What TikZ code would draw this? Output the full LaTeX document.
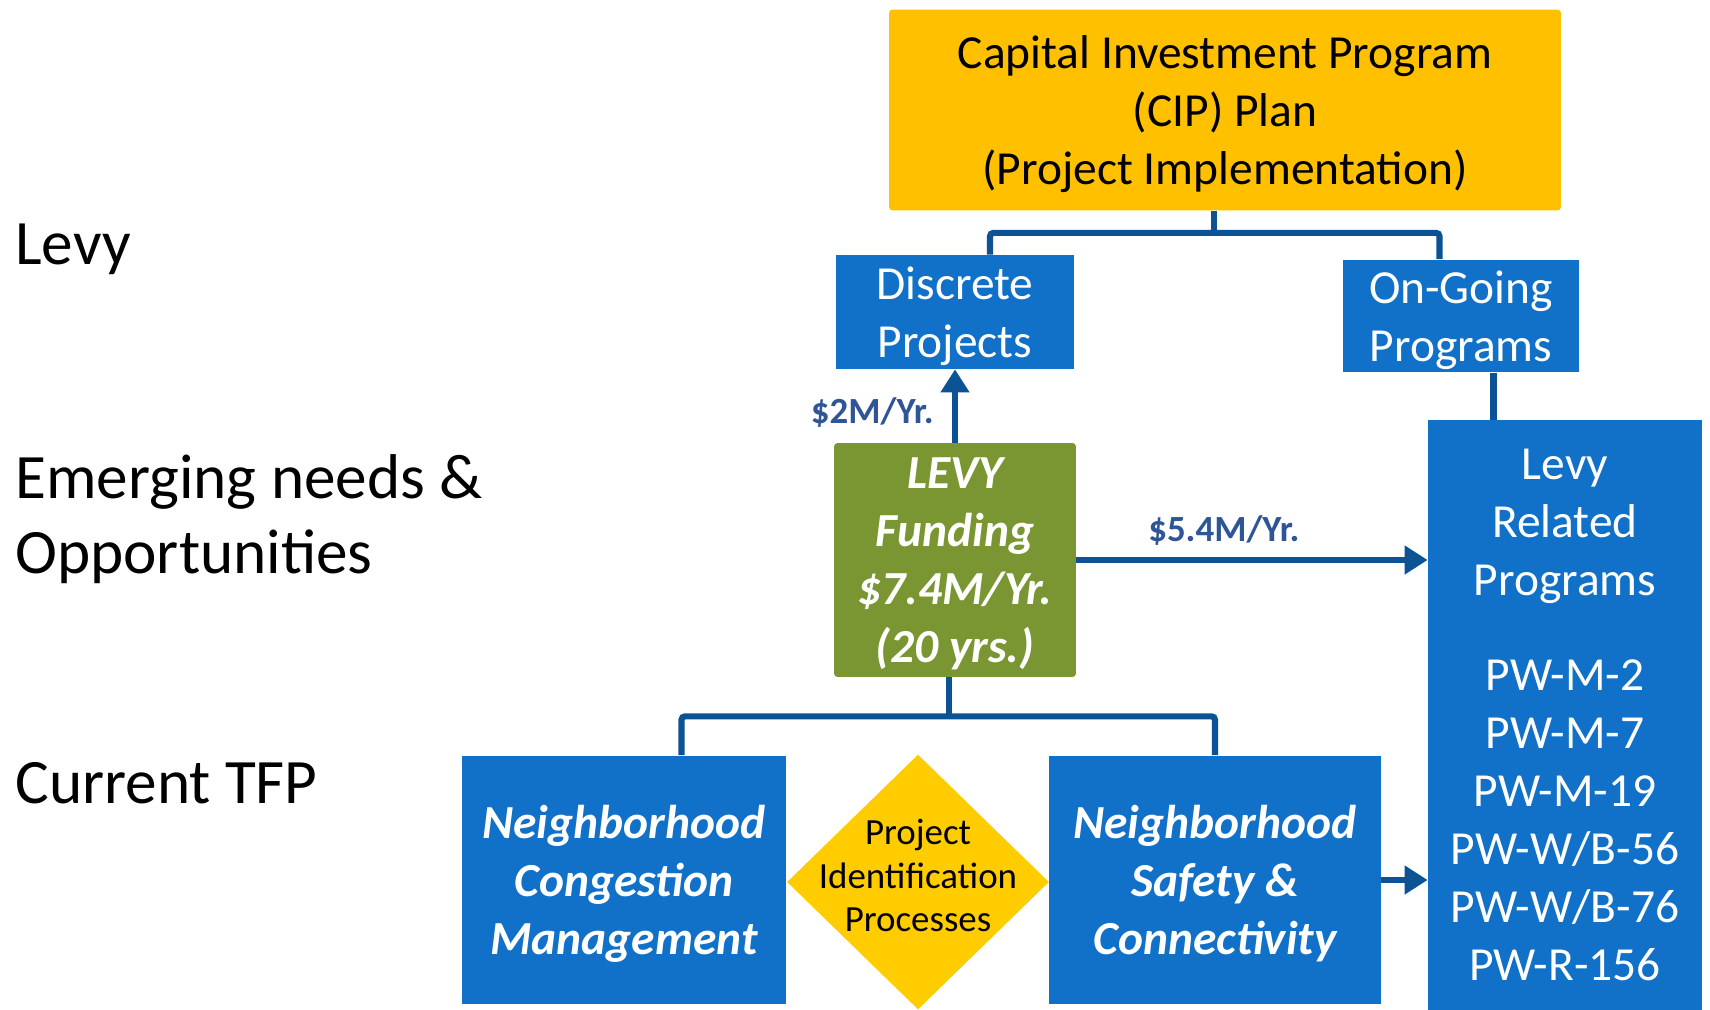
\documentclass[tikz,border=0pt]{standalone}
\usepackage{fontspec}
\setmainfont{Carlito}
\usetikzlibrary{shapes.geometric, arrows.meta}
\definecolor{boxblue}{RGB}{17,112,199}
\definecolor{linkblue}{RGB}{11,83,148}
\definecolor{cipgold}{RGB}{255,192,0}
\definecolor{levygreen}{RGB}{122,150,50}
\definecolor{diayellow}{RGB}{255,204,0}
\definecolor{labelblue}{RGB}{47,85,151}
\tikzstyle{arrow} = [line width=3.5pt, color=linkblue, -{Triangle[length=0.46cm,width=0.55cm]}]
\tikzstyle{link} = [line width=3.5pt, color=linkblue, rounded corners=2pt]
\tikzstyle{bluebox} = [rectangle, fill=boxblue, text=white, align=center, inner sep=0pt, text depth=0pt, font=\fontsize{27}{33}\selectfont]
\tikzstyle{sidelabel} = [anchor=west, align=left, inner sep=0pt, font=\fontsize{36}{43}\selectfont]
\tikzstyle{money} = [text=labelblue, font=\fontsize{21}{25}\selectfont\bfseries]

\begin{document}
\begin{tikzpicture}[x=0.02cm, y=-0.02cm]
            \useasboundingbox (0,0) rectangle (1710,1010);
            \node (levylbl) [sidelabel] at (15,249) {Levy};
            \node (emerglbl) [sidelabel] at (15,519) {Emerging needs \&\\Opportunities};
            \node (tfplbl) [sidelabel] at (15,783) {Current TFP};

            \node (cip) [rectangle, fill=cipgold, rounded corners=2pt, minimum width=13.44cm, minimum height=4.02cm, align=center, text depth=0pt, font=\fontsize{27}{33}\selectfont] at (1225,110) {Capital Investment Program\\(CIP) Plan\\(Project Implementation)};
            \node (disc) [bluebox, minimum width=4.76cm, minimum height=2.28cm] at (955,312) {Discrete\\Projects};
            \node (ongo) [bluebox, minimum width=4.74cm, minimum height=2.26cm] at (1461,316) {On-Going\\Programs};
            \node (rel) [bluebox, minimum width=5.48cm, minimum height=11.8cm] at (1565,715) {Levy\\Related\\Programs\\[21pt]PW-M-2\\PW-M-7\\PW-M-19\\PW-W/B-56\\PW-W/B-76\\PW-R-156};
            \node (levy) [rectangle, fill=levygreen, rounded corners=2pt, text=white, align=center, text depth=0pt, minimum width=4.84cm, minimum height=4.68cm, font=\fontsize{27}{33}\selectfont\bfseries\itshape] at (955,560) {LEVY\\Funding\\\$7.4M/Yr.\\(20 yrs.)};
            \node (ncm) [bluebox, minimum width=6.5cm, minimum height=4.98cm, font=\fontsize{27}{33}\selectfont\bfseries\itshape] at (624,880) {Neighborhood\\Congestion\\Management};
            \node (pip) [diamond, fill=diayellow, inner sep=0pt, minimum width=5.24cm, minimum height=5.1cm, label={[align=center, yshift=0.13cm, font=\fontsize{21}{25}\selectfont]center:Project\\Identification\\Processes}] at (918,882) {};
            \node (nsc) [bluebox, minimum width=6.64cm, minimum height=4.98cm, font=\fontsize{27}{33}\selectfont\bfseries\itshape] at (1215,880) {Neighborhood\\Safety \&\\Connectivity};

            \coordinate (cipjoin) at ([xshift=-0.22cm]cip.south);
            \coordinate (cipbar) at ([yshift=-0.44cm]cipjoin);
            \coordinate (discin) at ([xshift=0.7cm]disc.north);
            \coordinate (ongoin) at ([xshift=-0.43cm]ongo.north);
            \coordinate (ongoout) at ([xshift=0.65cm]ongo.south);
            \coordinate (levyout) at ([xshift=-0.12cm]levy.south);
            \coordinate (levybar) at ([yshift=-0.78cm]levyout);
            \coordinate (ncmin) at ([xshift=1.15cm]ncm.north);

            \draw[link] (cipjoin) -- (cipbar);
            \draw[link] (discin) |- (cipbar) -| (ongoin);
            \draw[link] (ongoout) -- (ongoout |- rel.north);
            \draw[arrow] (levy.north) -- (disc.south) node[midway, left, money, xshift=-0.25cm, yshift=-0.13cm] {\$2M/Yr.};
            \draw[arrow] (levy.east) -- (levy.east -| rel.west) node[pos=0.42, above, money, yshift=0.12cm] {\$5.4M/Yr.};
            \draw[link] (levyout) -- (levybar);
            \draw[link] (ncmin) |- (levybar) -| (nsc.north);
            \draw[arrow] (nsc.east) -- (nsc.east -| rel.west);
        \end{tikzpicture}
\end{document}
